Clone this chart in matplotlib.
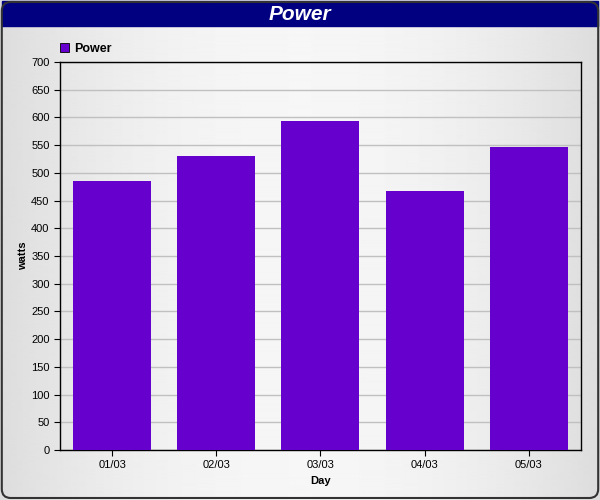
import numpy as np
import matplotlib
matplotlib.use("Agg")
import matplotlib.pyplot as plt
from matplotlib.patches import FancyBboxPatch, Rectangle

plt.rcParams['font.family'] = ['Liberation Sans', 'DejaVu Sans']

days = ["01/03", "02/03", "03/03", "04/03", "05/03"]
power = [486, 531, 594, 468, 547]

fig = plt.figure(figsize=(6, 5), dpi=100)

# background: horizontal gray gradient, lighter in the middle
bg = fig.add_axes([0, 0, 1, 1], zorder=-10)
xs = np.linspace(-1, 1, 600)
grad = 0.965 - 0.10 * xs ** 2
bg.imshow(np.tile(grad, (2, 1)), cmap="gray", vmin=0, vmax=1, aspect="auto",
          extent=[0, 1, 0, 1], interpolation="bicubic")
bg.set_xlim(0, 1)
bg.set_ylim(0, 1)
bg.axis("off")

# title bar
bg.add_patch(Rectangle((0.003, 0.949), 0.994, 0.048, color="#000080", zorder=2))
frame = FancyBboxPatch((0.003, 0.004), 0.994, 0.992, boxstyle="round,pad=0,rounding_size=0.015",
                       fill=False, edgecolor="#333333", linewidth=1.5, zorder=3,
                       transform=bg.transAxes, mutation_aspect=1.2)
bg.add_patch(frame)
fig.text(0.5, 0.972, "Power", color="white", fontsize=15, fontweight="bold",
         fontstyle="italic", ha="center", va="center")

ax = fig.add_axes([0.1, 0.1, 0.868, 0.776])
ax.set_facecolor("none")
x = np.arange(len(days))
ax.bar(x, power, width=0.75, color="#6600cc", label="Power", zorder=3)
ax.set_xlim(-0.5, len(days) - 0.5)
ax.set_ylim(0, 700)
ax.set_yticks(range(0, 701, 50))
ax.set_xticks(x)
ax.set_xticklabels(days)
ax.tick_params(labelsize=8, length=4, width=0.8)
ax.grid(axis="y", color="#c0c0c0", linewidth=1, zorder=0)
ax.set_xlabel("Day", fontsize=8, fontweight="bold")
ax.set_ylabel("watts", fontsize=8, fontweight="bold", labelpad=2)
for s in ax.spines.values():
    s.set_linewidth(1)

leg = ax.legend(loc="lower left", bbox_to_anchor=(-0.014, 1.0), frameon=False,
                prop={"size": 9, "weight": "bold"},
                handlelength=0.7, handleheight=0.7, handletextpad=0.4, borderaxespad=0.2)
for h in leg.get_patches():
    h.set_edgecolor("black")
    h.set_linewidth(0.6)

plt.savefig("out.png", dpi=100)
